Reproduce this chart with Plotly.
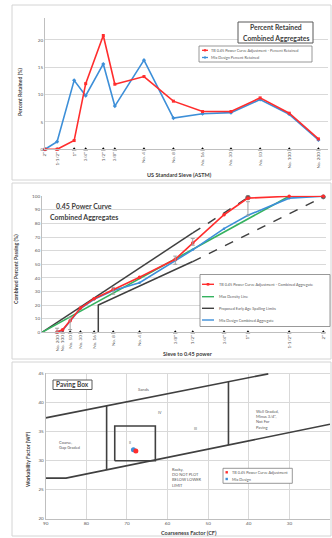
import numpy as np
import plotly.graph_objects as go

W, H = 332, 538
FONT = "Lato, 'Open Sans', sans-serif"
TXT = "#595959"
DARK = "#404040"
GRID = "#d9d9d9"
AXL = "#bfbfbf"
RED = "#ff2d2d"
BLUE = "#3d8fd8"
GREEN = "#35b25f"

# ---------------- data ----------------
sieve_labels = ['2"', '1-1/2"', '1"', '3/4"', '1/2"', '3/8"', 'No. 4', 'No. 8',
                'No. 16', 'No. 30', 'No. 50', 'No. 100', 'No. 200']
sieve_mm = [50, 37.5, 25, 19, 12.5, 9.5, 4.75, 2.36, 1.18, 0.6, 0.3, 0.15, 0.075]

tb_retained = [0, 0, 1.6, 12.0, 20.8, 11.9, 13.3, 8.8, 6.9, 6.9, 9.4, 6.6, 1.9]
mix_retained = [0, 1.4, 12.6, 9.8, 15.6, 7.9, 16.3, 5.7, 6.5, 6.7, 9.1, 6.4, 1.7]

tb_passing = [100, 100, 98.6, 86.4, 65.6, 53.7, 40.4, 31.6, 24.7, 17.8, 8.4, 1.8, 0.2]
mix_passing = [100, 98.6, 86.0, 76.2, 60.6, 52.7, 36.4, 30.7, 24.2, 17.5, 8.4, 1.5, 0.3]

maxdens_mm = [0, 37.5]
maxdens_pass = [0, 100]

upper_solid_mm = [0, 12.5]
upper_solid_pass = [0, 73]
upper_dash_mm = [12.5, 25]
upper_dash_pass = [73, 99]
lower_solid_mm = [1.4, 1.4, 12.5]
lower_solid_pass = [0, 20, 52]
lower_dash_mm = [12.5, 50]
lower_dash_pass = [52, 99.5]

range_mm = [0.075, 0.3, 2.36, 9.5, 12.5, 25]
range_low = [0, 2, 28, 50, 64, 86]
range_high = [3, 11, 33, 56, 69, 96]

# paving box chart
upper_cf = [90, 35.2]
upper_wf = [37.4, 45]
lower_cf = [90, 85, 20]
lower_wf = [27, 27, 36.3]
div1_cf = [75, 75]
div1_wf = [28.4, 39.5]
div2_cf = [45, 45]
div2_wf = [32.7, 43.6]
box_cf = [73, 63, 63, 73, 73]
box_wf = [30, 30, 36, 36, 30]
tb_cf, tb_wf = [67.8], [31.7]
mix_cf, mix_wf = [68.4], [31.9]

# ---------------- helpers ----------------
def PX(x):
    return x / W


def PY(y):
    return 1 - y / H


shapes = []
annots = []


def rect(x0, y0, x1, y1, color, width=1):
    shapes.append(dict(type="rect", xref="paper", yref="paper", x0=PX(x0), x1=PX(x1),
                       y0=PY(y1), y1=PY(y0), line=dict(color=color, width=width),
                       fillcolor="rgba(255,255,255,1)", layer="above"))


def seg(x0, y0, x1, y1, color, width=1.3):
    shapes.append(dict(type="line", xref="paper", yref="paper", x0=PX(x0), x1=PX(x1),
                       y0=PY(y0), y1=PY(y1), line=dict(color=color, width=width), layer="above"))


def dot(x, y, color, r=1.3):
    shapes.append(dict(type="rect", xref="paper", yref="paper", x0=PX(x - r), x1=PX(x + r),
                       y0=PY(y + r), y1=PY(y - r), line=dict(width=0), fillcolor=color, layer="above"))


def text(x, y, s, size, color=TXT, bold=False, xanchor="center", angle=0, xref="paper", yref="paper", align="center"):
    if xref == "paper":
        x = PX(x)
    if yref == "paper":
        y = PY(y)
    annots.append(dict(x=x, y=y, xref=xref, yref=yref, text=("<b>%s</b>" % s) if bold else s,
                       showarrow=False, textangle=angle, xanchor=xanchor, yanchor="middle",
                       align=align, font=dict(family=FONT, size=size, color=color)))


# panel borders
for (y0, y1) in [(5, 180), (183, 359), (362, 536)]:
    shapes.append(dict(type="rect", xref="paper", yref="paper", x0=PX(12), x1=PX(331),
                       y0=PY(y1), y1=PY(y0), line=dict(color="#d4d4d4", width=1), layer="below"))

fig = go.Figure()

# ---------------- chart 1: percent retained ----------------
x1pos = np.log2(50.0 / np.array(sieve_mm))
fig.add_trace(go.Scatter(x=x1pos, y=[0] * len(sieve_mm), mode="markers", xaxis="x", yaxis="y",
                         marker=dict(symbol="triangle-up", size=4, color="black"), showlegend=False, cliponaxis=False))
fig.add_trace(go.Scatter(x=x1pos, y=mix_retained, mode="lines+markers", xaxis="x", yaxis="y",
                         name="Mix Design Percent Retained",
                         line=dict(color=BLUE, width=1.6), marker=dict(symbol="diamond", size=3.2, color=BLUE),
                         showlegend=False, cliponaxis=False))
fig.add_trace(go.Scatter(x=x1pos, y=tb_retained, mode="lines+markers", xaxis="x", yaxis="y",
                         name="TB 0.45 Power Curve Adjustment - Percent Retained",
                         line=dict(color=RED, width=1.6), marker=dict(symbol="square", size=3, color=RED),
                         showlegend=False, cliponaxis=False))

# ---------------- chart 2: 0.45 power curve ----------------
def p45(mm):
    return np.power(np.array(mm, dtype=float), 0.45)


x2pos = p45(sieve_mm)
fig.add_trace(go.Scatter(x=x2pos, y=[0] * len(sieve_mm), mode="markers", xaxis="x2", yaxis="y2",
                         marker=dict(symbol="triangle-up", size=4, color="black"), showlegend=False, cliponaxis=False))
fig.add_trace(go.Scatter(x=p45(upper_solid_mm), y=upper_solid_pass, mode="lines", xaxis="x2", yaxis="y2",
                         line=dict(color=DARK, width=1.5), showlegend=False))
fig.add_trace(go.Scatter(x=p45(upper_dash_mm), y=upper_dash_pass, mode="lines+markers", xaxis="x2", yaxis="y2",
                         line=dict(color=DARK, width=1.5, dash="dash"),
                         marker=dict(size=[0, 4.5], color="black"), showlegend=False, cliponaxis=False))
fig.add_trace(go.Scatter(x=p45(lower_solid_mm), y=lower_solid_pass, mode="lines", xaxis="x2", yaxis="y2",
                         line=dict(color=DARK, width=1.5), showlegend=False))
fig.add_trace(go.Scatter(x=p45(lower_dash_mm), y=lower_dash_pass, mode="lines+markers", xaxis="x2", yaxis="y2",
                         line=dict(color=DARK, width=1.5, dash="dash"),
                         marker=dict(size=[0, 4], color="black"), showlegend=False, cliponaxis=False))
fig.add_trace(go.Scatter(x=p45(maxdens_mm), y=maxdens_pass, mode="lines", xaxis="x2", yaxis="y2",
                         name="Max Density Line", line=dict(color=GREEN, width=1.6), showlegend=False))
fig.add_trace(go.Scatter(x=x2pos, y=mix_passing, mode="lines+markers", xaxis="x2", yaxis="y2",
                         name="Mix Design Combined Aggregate",
                         line=dict(color=BLUE, width=1.6), marker=dict(size=2.5, color=BLUE),
                         showlegend=False, cliponaxis=False))
fig.add_trace(go.Scatter(x=x2pos, y=tb_passing, mode="lines+markers", xaxis="x2", yaxis="y2",
                         name="TB 0.45 Power Curve Adjustment - Combined Aggregate",
                         line=dict(color=RED, width=1.6), marker=dict(size=3.6, color=RED),
                         showlegend=False, cliponaxis=False))
mid = [(a + b) / 2 for a, b in zip(range_low, range_high)]
half = [(b - a) / 2 for a, b in zip(range_low, range_high)]
fig.add_trace(go.Scatter(x=p45(range_mm), y=mid, mode="markers", xaxis="x2", yaxis="y2",
                         marker=dict(size=0.1, color="rgba(0,0,0,0)"),
                         error_y=dict(type="data", array=half, color="#a0a0a0", thickness=1, width=2),
                         showlegend=False, cliponaxis=False))

# ---------------- chart 3: paving box ----------------
for cx, cy in [(upper_cf, upper_wf), (lower_cf, lower_wf), (div1_cf, div1_wf), (div2_cf, div2_wf), (box_cf, box_wf)]:
    fig.add_trace(go.Scatter(x=cx, y=cy, mode="lines", xaxis="x3", yaxis="y3",
                             line=dict(color=DARK, width=1.6), showlegend=False))
fig.add_trace(go.Scatter(x=mix_cf, y=mix_wf, mode="markers", xaxis="x3", yaxis="y3", name="Mix Design",
                         marker=dict(size=5, color=BLUE), showlegend=False))
fig.add_trace(go.Scatter(x=tb_cf, y=tb_wf, mode="markers", xaxis="x3", yaxis="y3",
                         name="TB 0.45 Power Curve Adjustment",
                         marker=dict(size=5, color=RED), showlegend=False))

# ---------------- text / boxes ----------------
# chart 1 title + legend
rect(238, 22, 313, 43, "#595959", 1)
text(275.5, 27.5, "Percent Retained", 6.8, DARK, True)
text(275.5, 37.5, "Combined Aggregates", 6.8, DARK, True)
rect(199, 46, 312, 62, "#7f7f7f", 0.8)
seg(202, 50.3, 208, 50.3, RED, 1.3); dot(205, 50.3, RED, 1.1)
text(209, 50.3, "TB 0.45 Power Curve Adjustment - Percent Retained", 3.8, xanchor="left")
seg(202, 57.5, 208, 57.5, BLUE, 1.3); dot(205, 57.5, BLUE, 1.0)
text(209, 57.5, "Mix Design Percent Retained", 3.8, xanchor="left")
text(20, 92, "Percent Retained (%)", 5.2, DARK, True, angle=-90)
text(179, 175, "US Standard Sieve (ASTM)", 5.5, DARK, True)

# chart 2 title + legend
text(84, 206, "0.45 Power Curve", 7, DARK, True)
text(84, 216.7, "Combined Aggregates", 7, DARK, True)
rect(200, 274.5, 330, 326.5, "#7f7f7f", 0.8)
leg2 = [(284.3, RED, "TB 0.45 Power Curve Adjustment - Combined Aggregate", True),
        (296.7, GREEN, "Max Density Line", False),
        (308.3, DARK, "Proposed Early Age Spalling Limits", False),
        (320.0, BLUE, "Mix Design Combined Aggregate", False)]
for yy, col, lab, mk in leg2:
    seg(202, yy, 214, yy, col, 1.4)
    if mk:
        dot(208, yy, col, 1.3)
    text(216.5, yy, lab, 3.8, xanchor="left")
text(16, 269, "Combined Percent Passing (%)", 5.2, DARK, True, angle=-90)
text(188, 354, "Sieve to 0.45 power", 5.5, DARK, True)

# chart 3 title + legend + zone labels
rect(53, 380, 92, 389.5, "#595959", 1)
text(72.5, 384.8, "Paving Box", 6.5, DARK, True)
rect(223, 468.3, 292.3, 483.3, "#7f7f7f", 0.8)
dot(226.7, 472.3, RED, 1.2)
text(229.5, 472.3, "TB 0.45 Power Curve Adjustment", 3.8, xanchor="left")
dot(226.7, 479, BLUE, 1.2)
text(229.5, 479, "Mix Design", 3.8, xanchor="left")
text(28, 459, "Workability Factor (WF)", 5.2, DARK, True, angle=-90)
text(189, 533, "Coarseness Factor (CF)", 5.5, DARK, True)

text(66, 42.3, "Sands", 4.2, xref="x3", yref="y3")
text(87.2, 32.8, "Coarse,<br>Gap Graded", 4.0, xref="x3", yref="y3", xanchor="left", align="left")
text(38.6, 37.1, "Well Graded,<br>Minus 3/4\",<br>Not For<br>Paving", 4.0, xref="x3", yref="y3",
     xanchor="left", align="left")
text(59.5, 27.1, "Rocky,<br>DO NOT PLOT<br>BELOW LOWER<br>LIMIT", 4.0, xref="x3", yref="y3",
     xanchor="left", align="left")
text(61.9, 38.3, "IV", 3.5, xref="x3", yref="y3")
text(53.0, 35.5, "III", 3.5, xref="x3", yref="y3")
text(69.3, 33.0, "II", 3.5, xref="x3", yref="y3")

tickfont = dict(family=FONT, size=4.6, color=TXT)
common_x = dict(showgrid=False, zeroline=False, showline=True, linecolor=AXL, linewidth=1,
                ticks="", tickfont=tickfont, automargin=False, fixedrange=True)
common_y = dict(showgrid=True, gridcolor=GRID, gridwidth=0.8, zeroline=False, showline=True,
                linecolor=AXL, linewidth=1, ticks="", tickfont=tickfont, automargin=False)

fig.update_layout(
    width=W, height=H, autosize=False,
    margin=dict(l=0, r=0, t=0, b=0),
    paper_bgcolor="white", plot_bgcolor="white",
    font=dict(family=FONT, color=TXT),
    showlegend=False,
    xaxis=dict(common_x, domain=[PX(45), PX(328.3)], range=[0, 9.72], anchor="y",
               tickvals=x1pos, ticktext=sieve_labels, tickangle=-90),
    yaxis=dict(common_y, domain=[PY(149.3), PY(18)], range=[0, 24], anchor="x",
               tickvals=[0, 5, 10, 15, 20]),
    xaxis2=dict(common_x, domain=[PX(42), PX(326)], range=[0, 5.87], anchor="y2",
                tickvals=x2pos, ticktext=sieve_labels, tickangle=-90),
    yaxis2=dict(common_y, domain=[PY(332.3), PY(195.7)], range=[0, 100.4], anchor="x2",
                tickvals=list(range(0, 101, 10))),
    xaxis3=dict(common_x, domain=[PX(45.7), PX(330)], range=[90, 20], anchor="y3",
                showgrid=True, gridcolor=GRID, gridwidth=0.8, tickvals=list(range(90, 19, -10))),
    yaxis3=dict(common_y, domain=[PY(518.7), PY(372.7)], range=[20, 45.2], anchor="x3",
                tickvals=[20, 25, 30, 35, 40, 45]),
    shapes=shapes,
    annotations=annots,
)

fig.write_html(
    "out.html",
    config={"displayModeBar": False},
    post_script="document.body.style.margin='0';document.body.style.padding='0';"
                "document.documentElement.style.overflow='hidden';document.body.style.overflow='hidden';",
)
